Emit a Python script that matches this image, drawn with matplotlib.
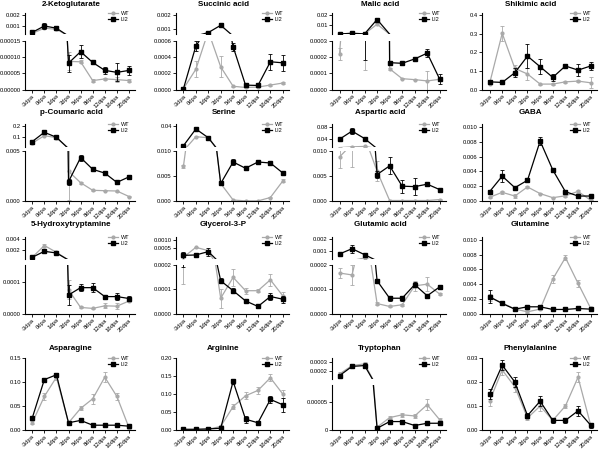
import matplotlib
matplotlib.use("Agg")
import matplotlib.pyplot as plt
from matplotlib.lines import Line2D
import numpy as np

plt.rcParams["font.family"] = ["Liberation Sans", "DejaVu Sans"]

W, H = 600, 455
DAYS = ["-3dpa", "0dpa", "1dpa", "3dpa", "5dpa", "8dpa", "12dpa", "16dpa", "20dpa"]
X = np.arange(len(DAYS))

# ---- values (means and error bars), WT vs LI2 ----
keto_wt = [0.00033, 0.0008, 0.0007, 0.000087, 0.0000857, 0.0000276, 0.0000327, 0.0000306, 0.0000276]
keto_wt_sd = [0.00003, 0.0001, 0.00005, 0.000028, 0.000005, 0.000005, 0.000003, 0.000008, 0.000004]
keto_li2 = [0.00042, 0.001, 0.0008, 0.0000816, 0.000117, 0.0000837, 0.0000592, 0.000053, 0.000059]
keto_li2_sd = [0.00003, 0.00025, 0.00008, 0.000026, 0.00002, 0.000004, 0.00001, 0.000028, 0.000013]

succ_wt = [0.00001, 0.00025, 0.00072, 0.00028, 0.00004, 0.000025, 0.00003, 0.000055, 0.00008]
succ_wt_sd = [0.000005, 0.0001, 0.00003, 0.00013, 0.000005, 0.000005, 0.000005, 0.00001, 0.000008]
succ_li2 = [0.00001, 0.000538, 0.00077, 0.00128, 0.00053, 0.000054, 0.00005, 0.000343, 0.00033]
succ_li2_sd = [0.000005, 0.00006, 0.00006, 0.00015, 0.00005, 0.00001, 0.00001, 0.0001, 0.0001]

malic_wt = [0.00022, 0.0012, 0.0005, 0.0105, 0.000128, 0.000067, 0.000061, 0.000053, 0.000063]
malic_wt_sd = [0.000035, 0.0003, 0.00038, 0.0008, 0.000008, 0.000005, 0.000005, 0.00006, 0.00001]
malic_li2 = [0.0004, 0.001, 0.0005, 0.0154, 0.000166, 0.000162, 0.000189, 0.000225, 0.000063]
malic_li2_sd = [0.0001, 0.0003, 0.00032, 0.0008, 0.000008, 0.00001, 0.000005, 0.000025, 0.00003]

shik_wt = [0.032, 0.301, 0.113, 0.083, 0.029, 0.029, 0.041, 0.045, 0.036]
shik_wt_sd = [0.005, 0.04, 0.02, 0.03, 0.003, 0.005, 0.004, 0.005, 0.03]
shik_li2 = [0.041, 0.038, 0.09, 0.179, 0.122, 0.065, 0.126, 0.104, 0.126]
shik_li2_sd = [0.005, 0.003, 0.025, 0.065, 0.04, 0.02, 0.005, 0.03, 0.02]

pcou_wt = [0.049, 0.114, 0.097, 0.00297, 0.00183, 0.00107, 0.00103, 0.001, 0.00045]
pcou_wt_sd = [0.004, 0.004, 0.004, 0.0029, 0.0001, 0.00005, 0.00005, 0.00005, 0.00005]
pcou_li2 = [0.063, 0.143, 0.1, 0.00193, 0.00434, 0.00317, 0.00279, 0.00186, 0.00241]
pcou_li2_sd = [0.004, 0.006, 0.005, 0.0003, 0.0003, 0.0001, 0.0001, 0.0001, 0.0002]

ser_wt = [0.00697, 0.0254, 0.0241, 0.0035, 0.0002, 0.00002, 0.00002, 0.0007, 0.004]
ser_wt_sd = [0.0003, 0.0005, 0.0005, 0.0003, 0.00005, 0.00001, 0.00001, 0.0001, 0.0003]
ser_li2 = [0.0137, 0.0355, 0.0241, 0.0035, 0.0078, 0.00655, 0.0078, 0.0076, 0.0056]
ser_li2_sd = [0.0005, 0.0008, 0.0005, 0.0002, 0.0006, 0.0002, 0.0002, 0.0002, 0.0002]

asp_wt = [0.0089, 0.0115, 0.013, 0.006, 0.0001, 0.0001, 0.0001, 0.0001, 0.0003]
asp_wt_sd = [0.0022, 0.0046, 0.001, 0.002, 0.00002, 0.00002, 0.00002, 0.00002, 0.00005]
asp_li2 = [0.0378, 0.0657, 0.040, 0.00535, 0.0071, 0.003, 0.0029, 0.0034, 0.0023]
asp_li2_sd = [0.002, 0.009, 0.002, 0.0008, 0.0017, 0.0013, 0.0017, 0.0003, 0.0002]

gaba_wt = [0.0005, 0.00117, 0.00067, 0.0019, 0.001, 0.00045, 0.0007, 0.0013, 0.0001]
gaba_wt_sd = [0.0001, 0.0002, 0.0003, 0.0001, 0.0001, 0.00005, 0.0001, 0.0002, 0.0001]
gaba_li2 = [0.00126, 0.00336, 0.0018, 0.0028, 0.0081, 0.0042, 0.00126, 0.00067, 0.00067]
gaba_li2_sd = [0.0001, 0.0008, 0.0001, 0.0001, 0.0006, 0.0002, 0.0001, 0.0001, 0.0001]

ht_wt = [0.00058, 0.0028, 0.00152, 0.000074, 0.000019, 0.000016, 0.000024, 0.000023, 0.000039]
ht_wt_sd = [0.00003, 0.0003, 0.0001, 0.00003, 0.000003, 0.000002, 0.000008, 0.00001, 0.000004]
ht_li2 = [0.00058, 0.00171, 0.00139, 0.000058, 0.000081, 0.000081, 0.000053, 0.000053, 0.000047]
ht_li2_sd = [0.00003, 0.0002, 0.0002, 0.00003, 0.00001, 0.000015, 0.000006, 0.00001, 0.000008]

g3p_wt = [0.00023, 0.00053, 0.0004, 0.000063, 0.000149, 0.000094, 0.000094, 0.000139, 0.000073]
g3p_wt_sd = [0.00011, 0.00003, 0.00003, 0.00004, 0.000035, 0.000012, 0.000005, 0.000025, 0.000015]
g3p_li2 = [0.00027, 0.00028, 0.00037, 0.000135, 0.000094, 0.000052, 0.000029, 0.00007, 0.000059]
g3p_li2_sd = [0.00008, 0.00002, 0.00012, 0.00001, 0.00001, 0.000003, 0.000005, 0.000015, 0.000015]

glu_wt = [0.000167, 0.000159, 0.00038, 0.000041, 0.000029, 0.000036, 0.000114, 0.000121, 0.00008]
glu_wt_sd = [0.00002, 0.00004, 0.00002, 0.000005, 0.000004, 0.000004, 0.00002, 0.00003, 0.000005]
glu_li2 = [0.00072, 0.00117, 0.00066, 0.000135, 0.000063, 0.000063, 0.000119, 0.000073, 0.00011]
glu_li2_sd = [0.00005, 0.00033, 0.00005, 0.000008, 0.00001, 0.00001, 0.00001, 0.000003, 0.000008]

gln_wt = [0.0022, 0.00145, 0.0006, 0.00023, 0.0006, 0.00468, 0.0076, 0.0041, 0.0007]
gln_wt_sd = [0.0005, 0.0003, 0.0001, 0.0002, 0.0001, 0.0005, 0.0003, 0.0005, 0.0001]
gln_li2 = [0.00227, 0.00136, 0.00059, 0.00091, 0.00091, 0.00055, 0.00055, 0.00068, 0.00059]
gln_li2_sd = [0.0009, 0.0001, 0.0001, 0.0001, 0.0003, 0.0001, 0.0001, 0.0001, 0.0001]

asn_wt = [0.015, 0.07, 0.11, 0.015, 0.045, 0.065, 0.11, 0.07, 0.005]
asn_wt_sd = [0.003, 0.008, 0.005, 0.003, 0.004, 0.01, 0.01, 0.008, 0.002]
asn_li2 = [0.025, 0.105, 0.115, 0.015, 0.02, 0.01, 0.01, 0.01, 0.008]
asn_li2_sd = [0.003, 0.004, 0.004, 0.002, 0.002, 0.001, 0.001, 0.001, 0.001]

arg_wt = [0.001, 0.001, 0.002, 0.01, 0.065, 0.095, 0.11, 0.145, 0.1]
arg_wt_sd = [0.001, 0.001, 0.001, 0.003, 0.008, 0.01, 0.01, 0.01, 0.01]
arg_li2 = [0.002, 0.002, 0.003, 0.005, 0.135, 0.03, 0.02, 0.085, 0.07]
arg_li2_sd = [0.001, 0.001, 0.001, 0.002, 0.006, 0.01, 0.005, 0.01, 0.02]

trp_wt = [0.00016, 0.00026, 0.00028, 0.000005, 0.000022, 0.000027, 0.000025, 0.000045, 0.000018]
trp_wt_sd = [0.00002, 0.00002, 0.00002, 0.000002, 0.000003, 0.000003, 0.000003, 0.00001, 0.000004]
trp_li2 = [0.00014, 0.00025, 0.00026, 0.000003, 0.000015, 0.000015, 0.000008, 0.000012, 0.000012]
trp_li2_sd = [0.00002, 0.00002, 0.00003, 0.000001, 0.000003, 0.000003, 0.000002, 0.000003, 0.000003]

phe_wt = [0.012, 0.025, 0.018, 0.005, 0.01, 0.004, 0.01, 0.022, 0.002]
phe_wt_sd = [0.002, 0.002, 0.002, 0.001, 0.002, 0.001, 0.001, 0.002, 0.001]
phe_li2 = [0.015, 0.027, 0.02, 0.006, 0.012, 0.004, 0.004, 0.008, 0.002]
phe_li2_sd = [0.002, 0.002, 0.002, 0.001, 0.002, 0.001, 0.001, 0.002, 0.001]

# y-axis set-up per panel: lower segment (min, max, ticks, labels),
# upper segment of a broken axis (min, max, ticks, labels, scale) or None
PANELS = [
    ("2-Ketoglutarate", keto_wt, keto_wt_sd, keto_li2, keto_li2_sd,
     (0, 0.00015, [0, 5e-5, 1e-4, 1.5e-4], ["0.00000", "0.00005", "0.00010", "0.00015"]),
     (0.00027, 0.00218, [0.001, 0.002], ["0.001", "0.002"], "linear")),
    ("Succinic acid", succ_wt, succ_wt_sd, succ_li2, succ_li2_sd,
     (0, 0.0006, [0, 0.0002, 0.0004, 0.0006], ["0.0000", "0.0002", "0.0004", "0.0006"]),
     (0.00067, 0.00214, [0.001, 0.002], ["0.001", "0.002"], "linear")),
    ("Malic acid", malic_wt, malic_wt_sd, malic_li2, malic_li2_sd,
     (0, 0.0003, [0, 0.0001, 0.0002, 0.0003], ["0.0000", "0.0001", "0.0002", "0.0003"]),
     (0.00031, 0.0222, [0.01, 0.02], ["0.01", "0.02"], "linear")),
    ("Shikimic acid", shik_wt, shik_wt_sd, shik_li2, shik_li2_sd,
     (0, 0.41, [0, 0.1, 0.2, 0.3, 0.4], ["0.0", "0.1", "0.2", "0.3", "0.4"]), None),
    ("p-Coumaric acid", pcou_wt, pcou_wt_sd, pcou_li2, pcou_li2_sd,
     (0, 0.005, [0, 0.005], ["0.000", "0.005"]),
     (0.016, 0.215, [0.1, 0.2], ["0.1", "0.2"], "linear")),
    ("Serine", ser_wt, ser_wt_sd, ser_li2, ser_li2_sd,
     (0, 0.010, [0, 0.005, 0.010], ["0.000", "0.005", "0.010"]),
     (0.012, 0.042, [0.04], ["0.04"], "linear")),
    ("Aspartic acid", asp_wt, asp_wt_sd, asp_li2, asp_li2_sd,
     (0, 0.0101, [0, 0.005, 0.010], ["0.000", "0.005", "0.010"]),
     (0.011, 0.09, [0.04, 0.08], ["0.04", "0.08"], "linear")),
    ("GABA", gaba_wt, gaba_wt_sd, gaba_li2, gaba_li2_sd,
     (0, 0.0104, [0, 0.002, 0.004, 0.006, 0.008, 0.010],
      ["0.000", "0.002", "0.004", "0.006", "0.008", "0.010"]), None),
    ("5-Hydroxytryptamine", ht_wt, ht_wt_sd, ht_li2, ht_li2_sd,
     (0, 0.000152, [0, 0.0001], ["0.0000", "0.0001"]),
     (0.00026, 0.0044, [0.002, 0.004], ["0.002", "0.004"], "linear")),
    ("Glycerol-3-P", g3p_wt, g3p_wt_sd, g3p_li2, g3p_li2_sd,
     (0, 0.0002, [0, 0.0001, 0.0002], ["0.0000", "0.0001", "0.0002"]),
     (0.0002, 0.00125, [0.0005, 0.0010], ["0.0005", "0.0010"], "log")),
    ("Glutamic acid", glu_wt, glu_wt_sd, glu_li2, glu_li2_sd,
     (0, 0.0002, [0, 0.0001, 0.0002], ["0.0000", "0.0001", "0.0002"]),
     (0.00029, 0.00217, [0.001, 0.002], ["0.001", "0.002"], "linear")),
    ("Glutamine", gln_wt, gln_wt_sd, gln_li2, gln_li2_sd,
     (0, 0.0104, [0, 0.002, 0.004, 0.006, 0.008, 0.010],
      ["0.000", "0.002", "0.004", "0.006", "0.008", "0.010"]), None),
    ("Asparagine", asn_wt, asn_wt_sd, asn_li2, asn_li2_sd,
     (0, 0.15, [0, 0.05, 0.10, 0.15], ["0.00", "0.05", "0.10", "0.15"]), None),
    ("Arginine", arg_wt, arg_wt_sd, arg_li2, arg_li2_sd,
     (0, 0.2, [0, 0.05, 0.10, 0.15, 0.20], ["0.00", "0.05", "0.10", "0.15", "0.20"]), None),
    ("Tryptophan", trp_wt, trp_wt_sd, trp_li2, trp_li2_sd,
     (0, 0.00008, [0, 0.00005], ["0", "0.00005"]),
     (0.0001, 0.00035, [0.0002, 0.0003], ["0.0002", "0.0003"], "linear")),
    ("Phenylalanine", phe_wt, phe_wt_sd, phe_li2, phe_li2_sd,
     (0, 0.03, [0, 0.01, 0.02, 0.03], ["0.00", "0.01", "0.02", "0.03"]), None),
]

# layout in pixels
COLS = [(25, 135), (176, 289), (332, 446), (482, 597)]
# top, upper-segment bottom, lower-segment top, bottom, title centre
ROWS = [(13, 34, 41, 89.5, 4), (124, 147, 151, 201, 113),
        (237, 259, 265, 313.5, 225), (358, 379, 385, 430, 348)]

GREY = "#a9a9a9"
TICK_FS = 4.2


def frac(x0, x1, ytop, ybot):
    return [x0 / W, 1 - ybot / H, (x1 - x0) / W, (ybot - ytop) / H]


def style(ax):
    for s in ("top", "right"):
        ax.spines[s].set_visible(False)
    for s in ("left", "bottom"):
        ax.spines[s].set_linewidth(0.8)
    ax.tick_params(length=2, width=0.6, labelsize=TICK_FS, pad=1)
    ax.patch.set_alpha(0)


def draw(ax, y0, y1, series):
    # only draw what belongs to this axis segment [y0, y1]
    for vals, sd, color, marker, ms, z in series:
        v = np.asarray(vals, float)
        e = np.asarray(sd, float)
        side = np.where(v < y0, -1, np.where(v > y1, 1, 0))
        xs, ys = [], []
        for i in range(len(v) - 1):
            if side[i] == side[i + 1] and side[i] != 0:
                continue
            xs += [X[i], X[i + 1], np.nan]
            ys += [v[i], v[i + 1], np.nan]
        ax.plot(xs, ys, color=color, lw=0.9, zorder=z)
        m = (v + e >= y0) & (v - e <= y1)
        if m.any():
            ax.errorbar(X[m], v[m], yerr=e[m], fmt="none", ecolor=color,
                        elinewidth=0.6, capsize=1.3, capthick=0.6, zorder=z)
        inside = side == 0
        ax.plot(X[inside], v[inside], ls="none", marker=marker, ms=ms,
                color=color, zorder=z + 0.5)
    ax.set_xlim(-0.6, 8.5)


fig = plt.figure(figsize=(W / 100, H / 100), dpi=100)

for i, (title, wt, wt_sd, li2, li2_sd, lo, hi) in enumerate(PANELS):
    r, c = divmod(i, 4)
    x0, x1 = COLS[c]
    top, ub, lt, bot, ty = ROWS[r]
    series = [(wt, wt_sd, GREY, "o", 2.0, 2), (li2, li2_sd, "black", "s", 2.6, 3)]

    ax = fig.add_axes(frac(x0, x1, lt if hi else top, bot))
    style(ax)
    draw(ax, lo[0], lo[1], series)
    ax.set_ylim(lo[0], lo[1])
    ax.set_yticks(lo[2])
    ax.set_yticklabels(lo[3])
    ax.set_xticks(X)
    ax.set_xticklabels(DAYS, rotation=45, ha="right", rotation_mode="anchor",
                       fontsize=TICK_FS)

    if hi:
        axh = fig.add_axes(frac(x0, x1, top, ub))
        style(axh)
        axh.spines["bottom"].set_visible(False)
        axh.set_yscale(hi[4])
        draw(axh, hi[0], hi[1], series)
        axh.set_ylim(hi[0], hi[1])
        axh.set_yticks(hi[2])
        axh.set_yticklabels(hi[3])
        axh.minorticks_off()
        axh.tick_params(axis="x", bottom=False, labelbottom=False)

    fig.text(((x0 + x1) / 2 - 9) / W, 1 - ty / H, title, ha="center", va="center",
             fontsize=5.8, fontweight="bold")

    handles = [
        Line2D([], [], color=GREY, marker="o", ms=2.0, lw=0.9),
        Line2D([], [], color="black", marker="s", ms=2.6, lw=0.9),
    ]
    ax.legend(handles, ["WT", "LI2"], loc="upper right",
              bbox_to_anchor=((x1 - 6) / W, 1 - (top - 2) / H),
              bbox_transform=fig.transFigure, frameon=False, fontsize=4,
              handlelength=1.8, handletextpad=0.5, labelspacing=0.25,
              borderaxespad=0, borderpad=0)

fig.savefig("out.png", dpi=100)
